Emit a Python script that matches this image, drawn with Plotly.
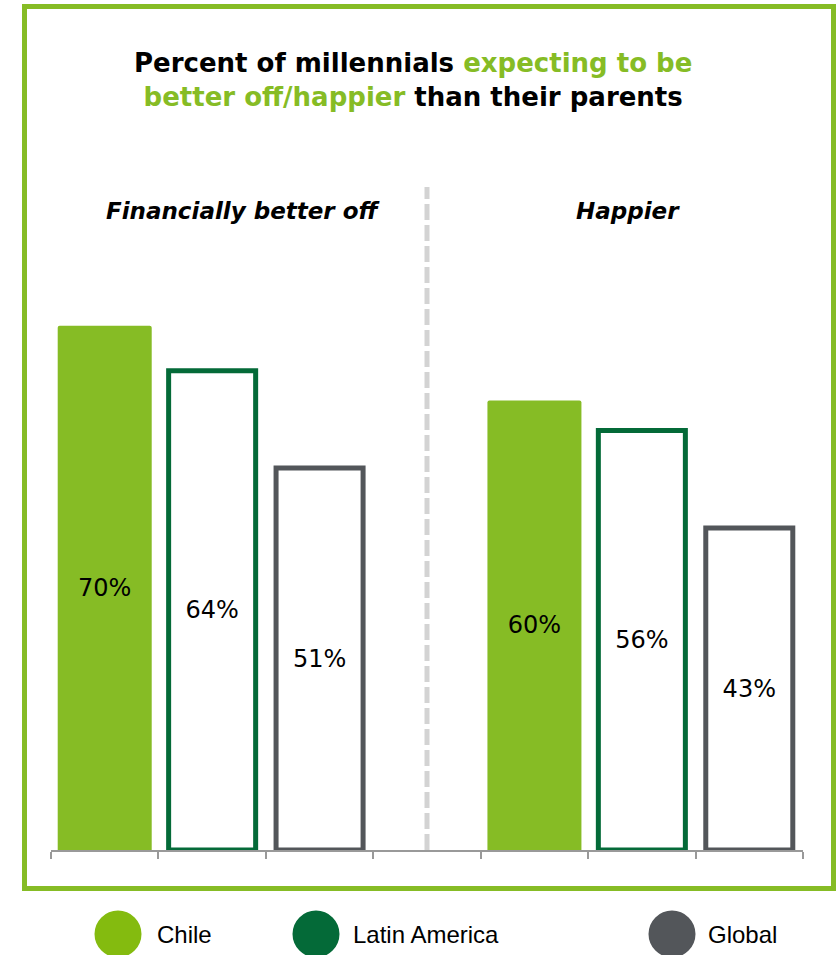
import plotly.graph_objects as go

# ---- data -------------------------------------------------------------
groups = ["Financially better off", "Happier"]
series = ["Chile", "Latin America", "Global"]
chile = [70, 60]
latin_america = [64, 56]
global_vals = [51, 43]

# ---- styling -----------------------------------------------------------
W, H = 839, 955
GREEN = "#86BC25"
DARK_GREEN = "#046A38"
GREY = "#53565A"
AXIS_GREY = "#999999"
FONT = "DejaVu Sans"


def px(x):
    return x / W


def py(y):
    return (H - y) / H


# slot positions: three bars per group, one empty slot between groups
def slots(series_index):
    return [g * 4 + series_index for g in range(len(groups))]


fig = go.Figure()

bar_specs = [
    (chile, dict(color=GREEN, line=dict(width=0), cornerradius=2), 0.875),
    (latin_america, dict(color="white", line=dict(color=DARK_GREEN, width=5)), 0.81),
    (global_vals, dict(color="white", line=dict(color=GREY, width=5)), 0.81),
]

for i, (vals, marker, width) in enumerate(bar_specs):
    fig.add_trace(go.Bar(
        x=slots(i),
        y=vals,
        name=series[i],
        width=width,
        marker=marker,
        text=[f"{v}%" for v in vals],
        textposition="inside",
        insidetextanchor="middle",
        textangle=0,
        constraintext="none",
        textfont=dict(family=FONT, size=24, color="#000000"),
        hoverinfo="skip",
        showlegend=False,
    ))

y_top = 700 / 7.49

fig.update_layout(
    width=W,
    height=H,
    autosize=False,
    margin=dict(l=0, r=0, t=0, b=0),
    paper_bgcolor="white",
    plot_bgcolor="white",
    font=dict(family=FONT, color="#000000"),
    barmode="overlay",
    xaxis=dict(
        domain=[px(51), px(803)],
        range=[-0.5, 6.5],
        tickvals=[i - 0.5 for i in range(8)],
        showticklabels=False,
        ticks="outside",
        ticklen=7,
        tickwidth=2,
        tickcolor=AXIS_GREY,
        showline=True,
        linecolor=AXIS_GREY,
        linewidth=2,
        showgrid=False,
        zeroline=False,
        fixedrange=True,
    ),
    yaxis=dict(
        domain=[py(850), py(150)],
        range=[0, y_top],
        visible=False,
        fixedrange=True,
    ),
)

# dashed divider between the two groups
fig.add_shape(
    type="line", xref="x", yref="paper",
    x0=3, x1=3, y0=py(850), y1=py(187),
    line=dict(color="#D3D3D3", width=5, dash="16px,5px"),
    layer="below",
)

# green frame around the chart
fig.add_shape(
    type="rect", xref="paper", yref="paper",
    x0=px(24.5), x1=px(833.5), y0=py(888.5), y1=py(6.5),
    line=dict(color=GREEN, width=5),
    fillcolor="rgba(0,0,0,0)",
)

# title
fig.add_annotation(
    xref="paper", yref="paper",
    x=px(413), y=py(80), xanchor="center", yanchor="middle",
    showarrow=False, align="center",
    text=(f"<b>Percent of millennials <span style='color:{GREEN}'>expecting to be</span><br>"
          f"<span style='color:{GREEN}'>better off/happier</span> than their parents</b>"),
    font=dict(family=FONT, size=26, color="#000000"),
)

# group headings
for name, cx in zip(groups, [243, 628]):
    fig.add_annotation(
        xref="paper", yref="paper",
        x=px(cx), y=py(211), xanchor="center", yanchor="middle",
        showarrow=False,
        text=f"<b><i>{name}</i></b>",
        font=dict(family=FONT, size=23, color="#000000"),
    )

# legend: large circles with labels
legend_items = [
    (series[0], "#84BB0F", 118, 155),
    (series[1], DARK_GREEN, 316, 351),
    (series[2], GREY, 672, 706),
]
for name, col, cx, tx in legend_items:
    r = 23.5
    fig.add_shape(
        type="circle", xref="paper", yref="paper",
        x0=px(cx - r), x1=px(cx + r), y0=py(934 + r), y1=py(934 - r),
        fillcolor=col, line=dict(width=0),
    )
    fig.add_annotation(
        xref="paper", yref="paper",
        x=px(tx), y=py(934), xanchor="left", yanchor="middle",
        showarrow=False, text=name,
        font=dict(family="Liberation Sans", size=24, color="#000000"),
    )

fig.write_html("out.html")
